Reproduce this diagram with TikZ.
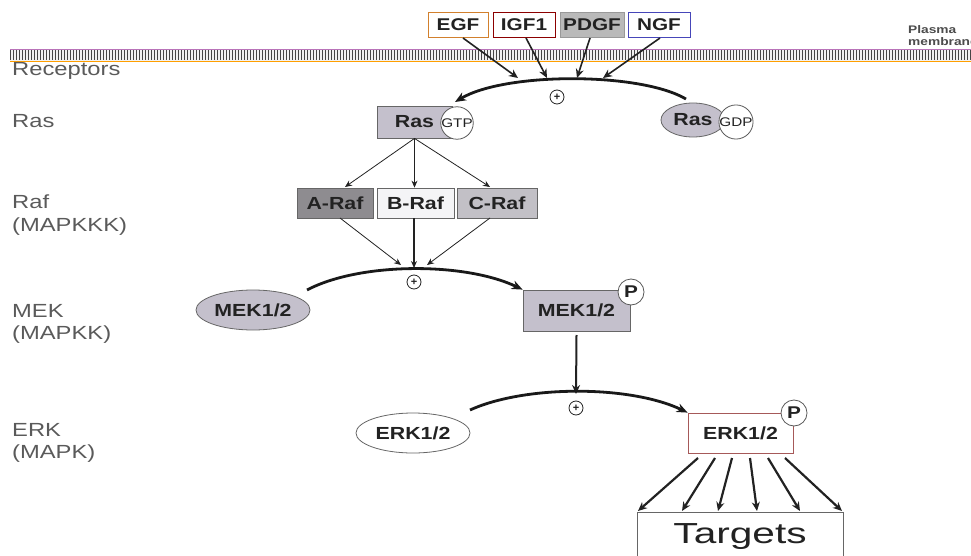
\documentclass[tikz,border=0pt]{standalone}
\usepackage{fontspec}
\setmainfont{Liberation Sans}
\newfontfamily\boxfont[FakeStretch=1.22]{Liberation Sans}
\newfontfamily\lblfont[FakeStretch=1.25]{Liberation Sans}
\newfontfamily\bigfont[FakeStretch=1.4]{Liberation Sans}
\usetikzlibrary{arrows.meta,shapes.geometric}

\definecolor{txt}{HTML}{222222}
\definecolor{lbl}{HTML}{5A5A5A}
\definecolor{rasfill}{HTML}{C4C0CC}
\definecolor{arafill}{HTML}{8E8C90}
\definecolor{brafill}{HTML}{F4F4F6}
\definecolor{crafill}{HTML}{C2C0C6}

\tikzset{
  ligand/.style={draw=gray!80, rectangle, minimum width=60pt, minimum height=25pt,
    inner sep=0pt, line width=0.8pt, font=\boxfont\fontsize{17}{19}\selectfont\bfseries, text=txt},
  protbox/.style={draw=gray!80!black, rectangle, inner sep=0pt, line width=0.8pt,
    font=\boxfont\fontsize{17.5}{19}\selectfont\bfseries, text=txt},
  protell/.style={draw=gray!80!black, ellipse, inner sep=0pt, line width=0.8pt,
    font=\boxfont\fontsize{17.5}{19}\selectfont\bfseries, text=txt},
  nucleo/.style={draw=gray!70!black, circle, fill=white, minimum size=32pt, inner sep=0pt,
    line width=0.8pt, font=\boxfont\fontsize{12.5}{14}\selectfont, text=txt},
  phos/.style={draw=gray!70!black, circle, fill=white, minimum size=26pt, inner sep=0pt,
    line width=0.8pt, font=\boxfont\fontsize{17}{19}\selectfont\bfseries, text=txt},
  plus/.style={draw=txt, circle, minimum size=14pt, inner sep=0pt, line width=0.8pt,
    font=\fontsize{11}{11}\selectfont\bfseries, text=txt},
  levellbl/.style={anchor=west, align=left, inner sep=0pt,
    font=\lblfont\fontsize{19}{22.5}\selectfont, text=lbl},
  thinarrow/.style={-{Stealth[length=7pt,width=6pt]}, line width=0.8pt, draw=txt},
  thickarrow/.style={-{Stealth[length=9pt,width=8pt]}, line width=2pt, draw=txt},
  arcarrow/.style={-{Stealth[length=11pt,width=9pt]}, line width=2.8pt, draw=black!90},
}

\begin{document}
\begin{tikzpicture}[x=1pt,y=-1pt]
\useasboundingbox (0,0) rectangle (971,556);

% plasma membrane band
\fill[gray!10] (10,49) rectangle (971,61);
\foreach \i in {0,...,320}
  \draw[gray!55!black, line width=0.5pt] ({10+\i*3},49.5) -- ({10+\i*3},60.5);
\draw[violet!55, line width=0.8pt] (10,49) -- (971,49);
\draw[orange!75!yellow, line width=0.8pt] (10,61) -- (971,61);
\node[anchor=north west, align=left, inner sep=0pt, text=gray!60!black,
  font=\lblfont\fontsize{11}{12}\selectfont\bfseries] (pmlbl) at (908,25) {Plasma\\membrane};

% growth factors
\node[ligand, draw=brown!70!orange] (egf) at (458,25) {EGF};
\node[ligand, draw=red!55!black, minimum width=62pt] (igf) at (524,25) {IGF1};
\node[ligand, fill=gray!55, minimum width=64pt] (pdgf) at (592,25) {PDGF};
\node[ligand, draw=blue!45!gray, minimum width=62pt] (ngf) at (659,25) {NGF};

% level labels
\node[levellbl] (lrec) at (12,71) {Receptors};
\node[levellbl] (lras) at (12,121) {Ras};
\node[levellbl] (lraf) at (12,215) {Raf\\(MAPKKK)};
\node[levellbl] (lmek) at (12,324) {MEK\\(MAPKK)};
\node[levellbl] (lerk) at (12,443) {ERK\\(MAPK)};

% Ras
\node[protbox, fill=rasfill, minimum width=75pt, minimum height=32pt] (rasgtp) at (414.5,122) {Ras};
\node[nucleo] (gtp) at (457,123) {GTP};
\node[protell, fill=rasfill, minimum width=64pt, minimum height=34pt] (rasgdp) at (693,120) {Ras};
\node[nucleo] (gdp) at (736,122) {GDP};

% Ras activation arc
\coordinate (arcrasS) at (686,99);
\coordinate (arcrasE) at (455,102);
\draw[arcarrow] (arcrasS) .. controls (640,72) and (505,72) .. (arcrasE);
\node[plus] (plusras) at (557,97) {+};

% ligand arrows
\coordinate (tegf) at (518,78);
\coordinate (tigf) at (547,78);
\coordinate (tpdgf) at (577,78);
\coordinate (tngf) at (603,78);
\draw[thickarrow, line width=1.6pt] (463,38) -- (tegf);
\draw[thickarrow, line width=1.6pt] (526,38) -- (tigf);
\draw[thickarrow, line width=1.6pt] (590,38) -- (tpdgf);
\draw[thickarrow, line width=1.6pt] (660,38) -- (tngf);

% Raf isoforms
\node[protbox, fill=arafill, minimum width=76pt, minimum height=30pt] (araf) at (335,203) {A-Raf};
\node[protbox, fill=brafill, minimum width=77pt, minimum height=30pt] (braf) at (415.5,203) {B-Raf};
\node[protbox, fill=crafill, minimum width=80pt, minimum height=30pt] (craf) at (497,203) {C-Raf};

\draw[thinarrow] (rasgtp.south) -- (345,187);
\draw[thinarrow] (rasgtp.south) -- (braf.north -| rasgtp.south);
\draw[thinarrow] (rasgtp.south) -- (490,187);

\coordinate (rafjoin) at (414,268);
\draw[thinarrow] (340,218) -- (401,265);
\draw[thinarrow, line width=1.1pt] (braf.south -| rafjoin) -- (rafjoin);
\draw[thinarrow] (490,218) -- (427,265);

% MEK
\node[protell, fill=rasfill, minimum width=114pt, minimum height=40pt] (mek) at (253,310) {MEK1/2};
\node[protbox, fill=rasfill, minimum width=107pt, minimum height=41pt] (mekp) at (576.5,310.5) {MEK1/2};
\node[phos] (pmek) at (631,292) {P};
\draw[arcarrow] (307,290) .. controls (360,262) and (465,262) .. (mekp.north west);
\node[plus] (plusmek) at (414,282) {+};

% MEK -> ERK
\coordinate (erkjoin) at (576,394);
\draw[thickarrow] (mekp.south |- 0,335) -- (erkjoin);

% ERK
\node[protell, fill=white, minimum width=114pt, minimum height=40pt] (erk) at (413,433) {ERK1/2};
\node[protbox, fill=white, draw=red!30!gray, minimum width=105pt, minimum height=40pt] (erkp) at (740.5,433) {ERK1/2};
\node[phos] (perk) at (794,413) {P};
\draw[arcarrow] (470,410) .. controls (525,385) and (630,385) .. (erkp.north west);
\node[plus] (pluserk) at (576,408) {+};

% targets
\node[draw=gray!80!black, rectangle, minimum width=206pt, minimum height=60pt,
  anchor=north, inner sep=0pt, line width=0.8pt] (targets) at (740,512) {};
\node[text=txt, font=\bigfont\fontsize{29}{32}\selectfont, inner sep=0pt] (tlbl) at (740,537) {Targets};

\foreach \sx/\ex in {698/638, 715/682, 732/718, 750/757, 768/800, 785/842}
  \draw[thickarrow, line width=2.2pt] (\sx,458) -- (\ex,511);
\end{tikzpicture}
\end{document}
